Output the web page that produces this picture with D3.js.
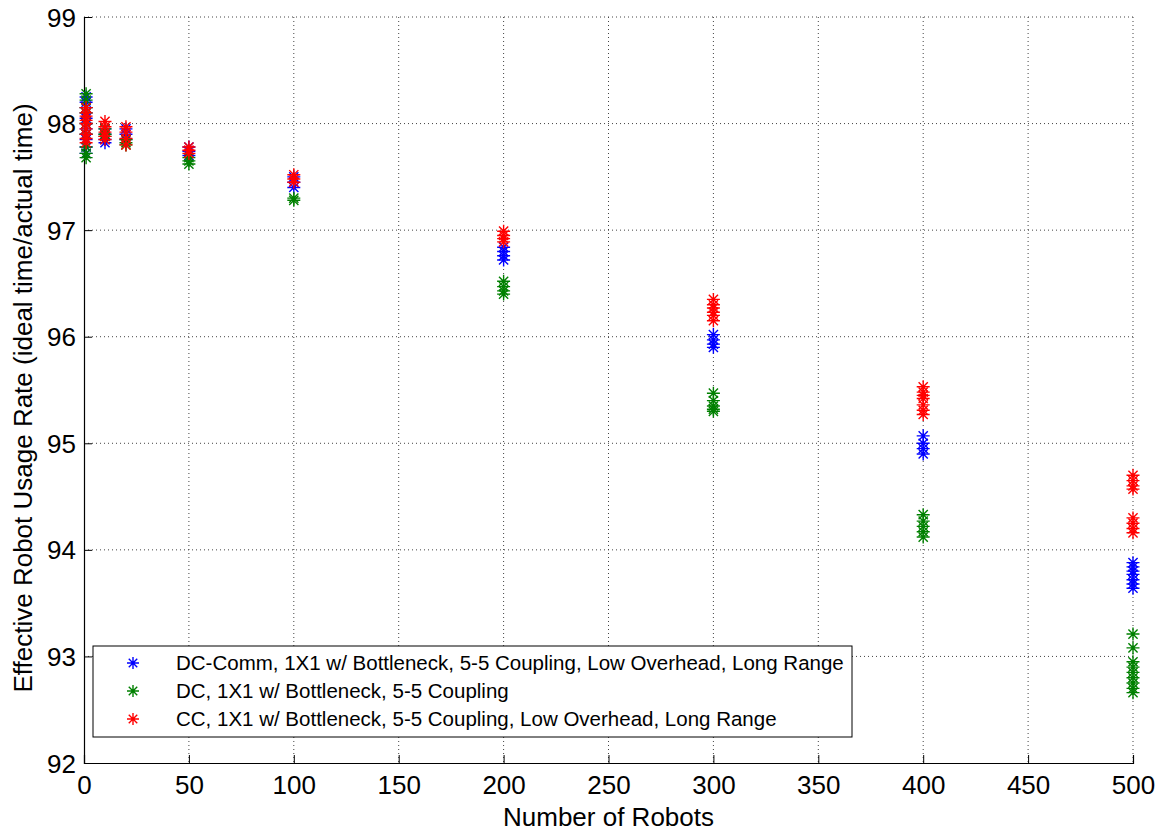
<!DOCTYPE html>
<html>
<head>
<meta charset="utf-8">
<script src="https://cdn.jsdelivr.net/npm/d3@7"></script>
<style>
  body { margin: 0; background: #fff; }
  svg text { font-family: Arial, "Liberation Sans", sans-serif; }
</style>
</head>
<body>
<div id="chart"></div>
<script>
// x positions (number of robots)
const robots = [1, 10, 20, 50, 100, 200, 300, 400, 500];

// repeated runs per x, one list per robots value
const dcComm = [
    [98.25, 98.2, 98.15, 98.1, 98.05, 98.0, 97.95, 97.9, 97.85, 97.78, 97.72],
    [97.95, 97.9, 97.85, 97.82],
    [97.95, 97.9, 97.85],
    [97.78, 97.74, 97.7],
    [97.5, 97.45, 97.4],
    [96.84, 96.8, 96.76, 96.72],
    [96.02, 95.97, 95.93, 95.9],
    [95.07, 95.0, 94.95, 94.9],
    [93.88, 93.84, 93.8, 93.77, 93.72, 93.68, 93.64]
];
const dc = [
    [98.28, 98.22, 98.15, 98.1, 98.0, 97.9, 97.78, 97.72, 97.68],
    [97.95, 97.9, 97.88],
    [97.85, 97.82, 97.8],
    [97.68, 97.65, 97.62],
    [97.3, 97.28],
    [96.52, 96.47, 96.43, 96.4],
    [95.47, 95.4, 95.35, 95.32, 95.3],
    [94.33, 94.27, 94.22, 94.17, 94.12],
    [93.21, 93.08, 92.95, 92.9, 92.85, 92.8, 92.75, 92.7, 92.66]
];
const cc = [
    [98.15, 98.1, 98.07, 98.03, 98.0, 97.95, 97.9, 97.86, 97.82],
    [98.02, 97.97, 97.92, 97.88, 97.85],
    [97.97, 97.92, 97.86, 97.8],
    [97.78, 97.75, 97.72],
    [97.52, 97.48, 97.45],
    [96.99, 96.95, 96.92, 96.89],
    [96.35, 96.3, 96.27, 96.23, 96.2, 96.15],
    [95.53, 95.48, 95.45, 95.42, 95.36, 95.31, 95.27],
    [94.7, 94.65, 94.6, 94.57, 94.3, 94.25, 94.2, 94.16]
];

const seriesNames = [
    "DC-Comm, 1X1 w/ Bottleneck, 5-5 Coupling, Low Overhead, Long Range",
    "DC, 1X1 w/ Bottleneck, 5-5 Coupling",
    "CC, 1X1 w/ Bottleneck, 5-5 Coupling, Low Overhead, Long Range"
];
const seriesColors = ["#0000ff", "#008000", "#ff0000"];
const xTicks = [0, 50, 100, 150, 200, 250, 300, 350, 400, 450, 500];
const yTicks = [92, 93, 94, 95, 96, 97, 98, 99];

const width = 1159, height = 831;
const margin = { top: 17, right: 26, bottom: 68, left: 84 };
const innerW = width - margin.left - margin.right;
const innerH = height - margin.top - margin.bottom;

const svg = d3.select("#chart").append("svg")
    .attr("width", width).attr("height", height);
const g = svg.append("g").attr("transform", `translate(${margin.left},${margin.top})`);

const x = d3.scaleLinear().domain([0, 500]).range([0, innerW]);
const y = d3.scaleLinear().domain([92, 99]).range([innerH, 0]);

// dotted grid
g.append("g").selectAll("line").data(xTicks.slice(1)).enter().append("line")
    .attr("x1", d => x(d)).attr("x2", d => x(d))
    .attr("y1", 0).attr("y2", innerH)
    .attr("stroke", "#444").attr("stroke-dasharray", "1,3");
g.append("g").selectAll("line").data(yTicks.slice(1)).enter().append("line")
    .attr("x1", 0).attr("x2", innerW)
    .attr("y1", d => y(d)).attr("y2", d => y(d))
    .attr("stroke", "#444").attr("stroke-dasharray", "1,3");

// axes (ticks pointing inward like MATLAB)
const xAxis = g.append("g").attr("transform", `translate(0,${innerH})`)
    .call(d3.axisBottom(x).tickValues(xTicks).tickFormat(d3.format("d")).tickSize(-8).tickPadding(13));
const yAxis = g.append("g")
    .call(d3.axisLeft(y).tickValues(yTicks).tickFormat(d3.format("d")).tickSize(-8).tickPadding(8));
[xAxis, yAxis].forEach(a => {
    a.select(".domain").attr("stroke", "#000").attr("stroke-width", 1.2);
    a.selectAll(".tick line").attr("stroke", "#000");
    a.selectAll(".tick text").attr("font-size", "26px").attr("fill", "#000")
        .style("font-family", "Arial, 'Liberation Sans', sans-serif");
});
yAxis.selectAll(".tick text").attr("dy", "0.35em");

// asterisk marker
function star(sel, cx, cy, r, color) {
    const d = r * Math.SQRT1_2;
    const p = `M${cx - r},${cy}L${cx + r},${cy}M${cx},${cy - r}L${cx},${cy + r}` +
        `M${cx - d},${cy - d}L${cx + d},${cy + d}M${cx - d},${cy + d}L${cx + d},${cy - d}`;
    sel.append("path").attr("d", p).attr("stroke", color).attr("stroke-width", 1.4).attr("fill", "none");
}

[dcComm, dc, cc].forEach((series, si) => {
    const layer = g.append("g");
    const pts = [];
    series.forEach((runs, i) => runs.forEach(v => pts.push({ x: robots[i], v })));
    pts.forEach(p => star(layer, x(p.x), y(p.v), 6.5, seriesColors[si]));
});

// legend
const legend = svg.append("g");
legend.append("rect")
    .attr("x", 93).attr("y", 646).attr("width", 759).attr("height", 91)
    .attr("fill", "#fff").attr("stroke", "#000").attr("stroke-width", 1);
seriesNames.forEach((name, i) => {
    const cy = 663 + i * 28;
    star(legend, 133, cy, 6, seriesColors[i]);
    legend.append("text").attr("x", 176).attr("y", cy).attr("dy", "0.35em")
        .attr("font-size", "20.5px").attr("fill", "#000").text(name);
});

// axis titles
svg.append("text")
    .attr("x", margin.left + innerW / 2).attr("y", 826)
    .attr("text-anchor", "middle").attr("font-size", "26px").attr("fill", "#000")
    .text("Number of Robots");
svg.append("text")
    .attr("transform", `translate(32,${margin.top + innerH / 2 + 8}) rotate(-90)`)
    .attr("text-anchor", "middle").attr("font-size", "26px").attr("fill", "#000")
    .text("Effective Robot Usage Rate (ideal time/actual time)");
</script>
</body>
</html>
